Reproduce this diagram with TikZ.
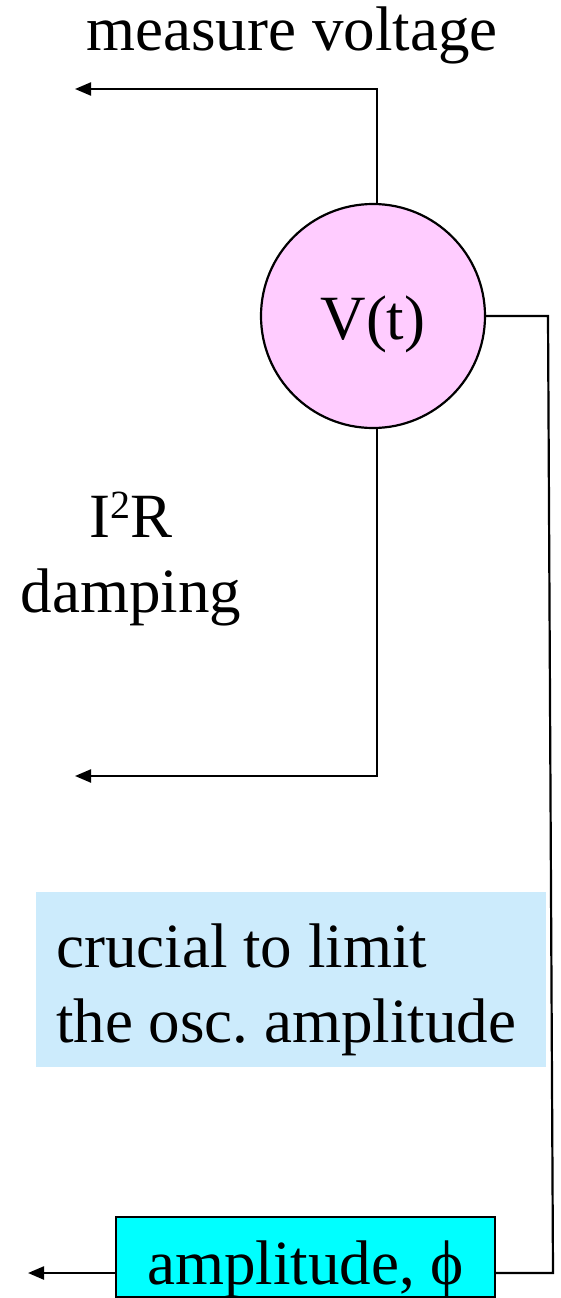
\documentclass[tikz,border=0pt]{standalone}
\usepackage{fontspec}
\setmainfont{Liberation Serif}
\usetikzlibrary{arrows.meta}
\definecolor{pinkfill}{HTML}{FFCCFF}
\definecolor{lightblue}{HTML}{CCEBFC}
\definecolor{cyanfill}{HTML}{00FFFF}
\begin{document}
\begin{tikzpicture}[x=1pt,y=-1pt,
  big/.style={font=\fontsize{63}{75}\selectfont},
  conn/.style={line width=2.2pt},
  arr/.style={conn,-{Triangle[length=16pt,width=13pt]}},
  vcircle/.style={big,circle,draw,line width=2.2pt,fill=pinkfill,minimum size=224pt,inner sep=0pt,text height=46pt,text depth=0pt},
  ampbox/.style={big,rectangle,draw,line width=2.2pt,fill=cyanfill,minimum width=379pt,minimum height=80pt,inner sep=0pt,text height=54pt,text depth=0pt},
  notebox/.style={big,rectangle,fill=lightblue,minimum width=510pt,minimum height=175pt,inner xsep=20pt,text width=470pt,align=flush left,text height=55pt,text depth=80pt},
  label/.style={big,inner sep=0pt}]
\useasboundingbox (0,0) rectangle (560,1298);
\node[label,anchor=base] (mv) at (292,51) {measure voltage};
\node[vcircle] (v) at (373,316) {V(t)};
\node[label,anchor=base,align=center] (damp) at (131,612) {I\raisebox{0.3em}{\fontsize{40}{40}\selectfont 2}R\\damping};
\node[notebox,anchor=west] (note) at (36,979.5) {crucial to limit\\the osc.\ amplitude};
\node[ampbox] (amp) at (305.5,1257) {amplitude, \symbol{"03D5}};
\coordinate (mvend) at (75,89);
\coordinate (dend) at (75,776);
\coordinate (rt) at (548,316);
\coordinate (rb) at (553,1273);
\coordinate (aend) at (28,1273);
\draw[arr] ([xshift=4pt]v.north) |- (mvend);
\draw[arr] ([xshift=4pt]v.south) |- (dend);
\draw[conn] (v.east) -- (rt) -- (rb) -- (rb -| amp.east);
\draw[arr] (rb -| amp.west) -- (aend);
\end{tikzpicture}
\end{document}
